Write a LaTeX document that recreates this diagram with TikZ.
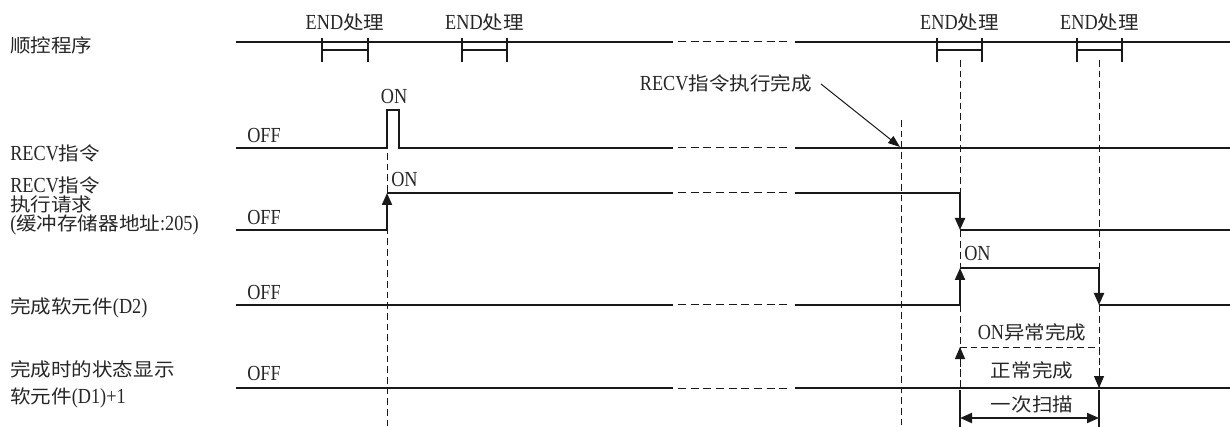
\documentclass[tikz,border=0pt]{standalone}
\usepackage{fontspec}
\setmainfont[FakeStretch=1.1]{Noto Sans CJK SC}
\newfontfamily\latfont[Scale=1.15,FakeStretch=0.85]{Liberation Serif}
\newcommand\la[1]{{\latfont #1}}
\usetikzlibrary{arrows.meta}

\begin{document}
\begin{tikzpicture}[x=0.75pt,y=-0.75pt,
  txt/.style={font=\fontsize{14}{14.3}\selectfont, inner sep=0pt, text=black!85},
  lbl/.style={txt, anchor=west, align=left},
  sig/.style={line width=1.5pt, black!90},
  flank/.style={sig, -{Triangle[length=9pt,width=7.5pt]}},
  brk/.style={line width=0.75pt, black!90, dash pattern=on 6pt off 3.5pt},
  guide/.style={line width=0.6pt, black!90, dash pattern=on 5pt off 3pt},
  dflank/.style={guide, line width=0.75pt, -{Triangle[length=9pt,width=7.5pt]}},
  pointer/.style={line width=0.75pt, black!90, -{Triangle[length=9pt,width=6.5pt]}},
  scan/.style={sig, {Triangle[length=9pt,width=7.5pt]}-{Triangle[length=9pt,width=7.5pt]}}]
  \useasboundingbox (0,0) rectangle (1230,427);
  % noms des signaux
  \node[lbl] (seq) at (10,45) {顺控程序};
  \node[lbl] (recv) at (10,153) {\la{RECV}指令};
  \node[lbl] (req) at (10,206) {\la{RECV}指令\\执行请求\\\la{(}缓冲存储器地址\la{:205)}};
  \node[lbl] (dtwo) at (10,308) {完成软元件\la{(D2)}};
  \node[lbl] (done) at (10,369) {完成时的状态显示};
  \node[lbl] (donetwo) at (10,398) {软元件\la{(D1)+1}};
  \foreach \y [count=\i] in {136,217,292,373}
    \node[txt, anchor=west] (off\i) at (247,\y) {\la{OFF}};
  % lignes de repère
  \foreach \x/\y in {387/153, 901/120, 960/60, 1099/60}
    \draw[guide] (\x,\y) -- (\x,427);
  % coupures
  \foreach \y in {42,148,193,305,388}
    \draw[brk] (678,\y) -- (791,\y);
  % programme séquentiel
  \draw[sig] (236,42) -- (673,42) (795,42) -- (1230,42);
  \foreach \a/\b in {322/368, 462/507, 937/982, 1077/1122}{
    \draw[sig] (\a,38) -- (\a,62) (\b,38) -- (\b,62) (\a,50) -- (\b,50);
    \node[txt] (end\a) at ({(\a+\b)/2},22) {\la{END}处理};
  }
  % instruction RECV
  \draw[sig] (236,148) -- (387,148) -- (387,110) -- (399,110) -- (399,148) -- (673,148)
    (795,148) -- (1230,148);
  \node[txt] (recvon) at (394,97) {\la{ON}};
  \node[txt, anchor=east] (fin) at (812,83) {\la{RECV}指令执行完成};
  \coordinate (finpt) at (900,147);
  \draw[pointer] (fin.east) ++(9,1) -- (finpt);
  % demande d'exécution
  \draw[sig] (236,230) -- (387,230);
  \draw[flank] (387,230) -- (387,193);
  \draw[sig] (387,193) -- (673,193) (795,193) -- (960,193);
  \draw[flank] (960,193) -- (960,230);
  \draw[sig] (960,230) -- (1230,230);
  \node[txt, anchor=west] (reqon) at (391,180) {\la{ON}};
  % bit de fin (D2)
  \draw[sig] (236,305) -- (673,305) (795,305) -- (960,305);
  \draw[flank] (960,305) -- (960,268);
  \draw[sig] (960,268) -- (1099,268);
  \draw[flank] (1099,268) -- (1099,305);
  \draw[sig] (1099,305) -- (1230,305);
  \node[txt, anchor=west] (dtwoon) at (964,253) {\la{ON}};
  % état de fin (D1)+1
  \draw[sig] (236,388) -- (673,388) (795,388) -- (1230,388);
  \draw[dflank] (960,388) -- (960,347);
  \draw[guide, line width=0.75pt] (960,347) -- (1099,347);
  \draw[dflank] (1099,347) -- (1099,388);
  \node[txt] (abn) at (1032,332) {\la{ON}异常完成};
  \node[txt] (nrm) at (1032,370) {正常完成};
  % un cycle
  \draw[sig] (960,390) -- (960,427) (1099,390) -- (1099,427);
  \draw[scan] (960,418) -- (1099,418);
  \node[txt] (cyc) at (1032,404) {一次扫描};
\end{tikzpicture}
\end{document}
